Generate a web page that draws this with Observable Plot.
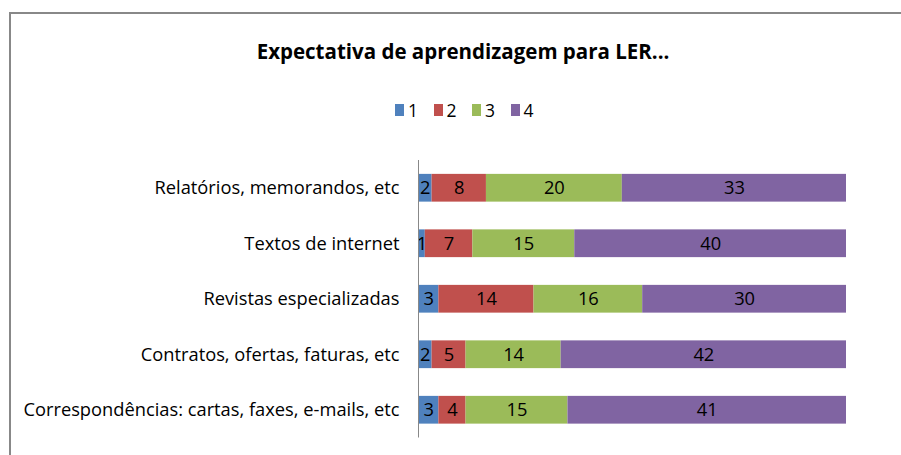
<!DOCTYPE html>
<html>
<head>
<meta charset="utf-8">
<script src="https://cdn.jsdelivr.net/npm/d3@7"></script>
<script src="https://cdn.jsdelivr.net/npm/@observablehq/plot@0.6"></script>
<style>
  html, body { margin: 0; padding: 0; background: #fff; }
  #wrap { position: relative; width: 901px; height: 455px; overflow: hidden;
          font-family: "Open Sans", sans-serif; }
  #frame { position: absolute; left: 9px; top: 12px; width: 900px; height: 460px;
           border-top: 2px solid #888; border-left: 2px solid #888; box-sizing: border-box; }
  #title { position: absolute; left: 0; width: 926px; top: 36px; text-align: center;
           font-size: 20.5px; font-weight: bold; color: #000; line-height: 30px; }
  #legend { position: absolute; left: 0; width: 944px; top: 98px; display: flex; justify-content: center;
            font-size: 17.5px; color: #000; line-height: 24px; }
  #legend span.item { display: inline-flex; align-items: center; width: 38.5px; }
  #legend span.sw { display: inline-block; width: 9px; height: 12px; margin-right: 4px; }
  #chart { position: absolute; left: 0; top: 140px; }
  #chart svg text { font-family: "Open Sans", sans-serif; font-size: 18.3px; }
</style>
</head>
<body>
<div id="wrap">
  <div id="frame"></div>
  <div id="title"></div>
  <div id="legend"></div>
  <div id="chart"></div>
</div>
<script>
const titleText = "Expectativa de aprendizagem para LER...";
const categories = [
  "Relatórios, memorandos, etc",
  "Textos de internet",
  "Revistas especializadas",
  "Contratos, ofertas, faturas, etc",
  "Correspondências: cartas, faxes, e-mails, etc"
];
const seriesNames = ["1", "2", "3", "4"];
const seriesColors = ["#4F81BD", "#C0504D", "#9BBB59", "#8064A2"];
const values1 = [2, 1, 3, 2, 3];
const values2 = [8, 7, 14, 5, 4];
const values3 = [20, 15, 16, 14, 15];
const values4 = [33, 40, 30, 42, 41];

const allValues = [values1, values2, values3, values4];
const data = [];
categories.forEach((c, i) => {
  seriesNames.forEach((s, j) => {
    data.push({category: c, series: s, value: allValues[j][i]});
  });
});
const maxTotal = d3.max(categories.map((c, i) => d3.sum(allValues, v => v[i])));

document.getElementById("title").textContent = titleText;
const leg = document.getElementById("legend");
seriesNames.forEach((s, j) => {
  const item = document.createElement("span");
  item.className = "item";
  const sw = document.createElement("span");
  sw.className = "sw";
  sw.style.background = seriesColors[j];
  item.appendChild(sw);
  item.appendChild(document.createTextNode(s));
  leg.appendChild(item);
});

const plot = Plot.plot({
  width: 901,
  height: 315,
  marginLeft: 418,
  marginRight: 55,
  marginTop: 20,
  marginBottom: 17.5,
  style: { background: "transparent", color: "#000" },
  x: { domain: [0, maxTotal], axis: null },
  y: { domain: categories, paddingInner: 0.5, paddingOuter: 0.25, round: false, label: null,
       tickSize: 0, tickPadding: 19 },
  color: { domain: seriesNames, range: seriesColors },
  marks: [
    Plot.barX(data, Plot.stackX({ x: "value", y: "category", fill: "series", z: "series", order: seriesNames })),
    Plot.text(data, Plot.stackX({ x: "value", y: "category", z: "series", text: d => String(d.value), order: seriesNames,
      fill: "#000" })),
    Plot.ruleX([0], { stroke: "#888", strokeWidth: 1 })
  ]
});
document.getElementById("chart").appendChild(plot);
</script>
</body>
</html>
